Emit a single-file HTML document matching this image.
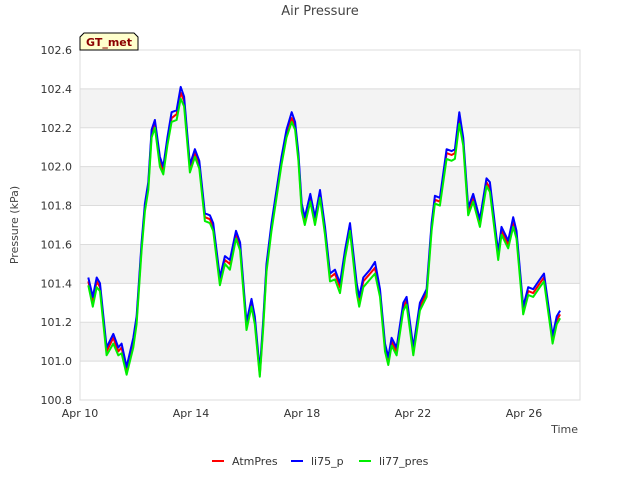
<!DOCTYPE html>
<html><head><meta charset="utf-8"><style>
body{margin:0;background:#fff;font-family:"Liberation Sans","DejaVu Sans",sans-serif}
</style></head><body>
<svg id="chart" width="640" height="480" xmlns="http://www.w3.org/2000/svg" font-family="DejaVu Sans, Liberation Sans, sans-serif">
<text x="320" y="15" text-anchor="middle" font-size="13" fill="#444">Air Pressure</text>
<g id="bands"></g><g id="grid"></g><g id="yticks"></g><g id="xticks"></g><g id="series"></g>
<text transform="translate(18,225) rotate(-90)" text-anchor="middle" font-size="11" fill="#444">Pressure (kPa)</text>
<text x="578" y="433" text-anchor="end" font-size="11" fill="#444">Time</text>
<g>
<path d="M80,50 L80,37 L84,33 L134,33 L138,37 L138,50 Z" fill="#ffffcc" stroke="#000" stroke-width="1"/>
<text x="109" y="46" text-anchor="middle" font-size="11" font-weight="bold" fill="#8b0000">GT_met</text>
</g>
<g font-size="11" fill="#333">
<g><line x1="212" y1="461" x2="224" y2="461" stroke="#ff0000" stroke-width="2"/><text x="232" y="465">AtmPres</text></g>
<g><line x1="291" y1="461" x2="303" y2="461" stroke="#0000ff" stroke-width="2"/><text x="311" y="465">li75_p</text></g>
<g><line x1="359" y1="461" x2="371" y2="461" stroke="#00ee00" stroke-width="2"/><text x="379" y="465">li77_pres</text></g>
</g>
</svg>
<script>
const days = [0.3,0.46,0.6,0.72,0.96,1.2,1.38,1.5,1.68,1.92,2.04,2.22,2.34,2.46,2.58,2.7,2.88,3.0,3.15,3.3,3.48,3.63,3.75,3.96,4.14,4.3,4.5,4.68,4.8,5.04,5.22,5.4,5.62,5.77,6.0,6.18,6.3,6.48,6.6,6.72,6.9,7.08,7.26,7.44,7.63,7.75,7.87,7.99,8.1,8.3,8.47,8.65,8.83,9.01,9.19,9.37,9.55,9.73,9.97,10.06,10.21,10.45,10.63,10.81,10.99,11.11,11.23,11.41,11.65,11.77,12.01,12.25,12.49,12.67,12.79,12.97,13.21,13.39,13.51,13.67,13.81,13.99,14.17,14.41,14.65,14.77,15.07,15.19,15.43,15.61,15.73,15.97,16.15,16.33,16.57,16.72,17.03,17.18,17.3];
const li75 = [101.43,101.33,101.43,101.40,101.07,101.14,101.07,101.09,100.97,101.12,101.23,101.61,101.81,101.92,102.19,102.24,102.05,102.00,102.15,102.28,102.29,102.41,102.36,102.01,102.09,102.03,101.76,101.75,101.71,101.43,101.54,101.52,101.67,101.61,101.20,101.32,101.23,100.95,101.20,101.50,101.71,101.88,102.05,102.19,102.28,102.23,102.07,101.81,101.74,101.86,101.74,101.88,101.69,101.45,101.47,101.40,101.57,101.71,101.40,101.33,101.43,101.47,101.51,101.37,101.09,101.02,101.12,101.07,101.30,101.33,101.07,101.30,101.37,101.71,101.85,101.84,102.09,102.08,102.09,102.28,102.15,101.79,101.86,101.73,101.94,101.92,101.56,101.69,101.62,101.74,101.67,101.28,101.38,101.37,101.42,101.45,101.13,101.23,101.26];
const atm = [101.41,101.31,101.41,101.38,101.05,101.12,101.05,101.07,100.95,101.10,101.21,101.59,101.79,101.90,102.17,102.22,102.03,101.98,102.13,102.25,102.27,102.38,102.34,101.99,102.07,102.01,101.74,101.73,101.69,101.41,101.52,101.50,101.65,101.59,101.18,101.30,101.21,100.93,101.18,101.48,101.69,101.86,102.03,102.17,102.25,102.21,102.05,101.79,101.72,101.84,101.72,101.86,101.67,101.43,101.45,101.38,101.55,101.69,101.38,101.31,101.41,101.45,101.48,101.35,101.07,101.00,101.10,101.05,101.28,101.31,101.05,101.28,101.35,101.69,101.83,101.82,102.07,102.06,102.07,102.25,102.13,101.77,101.84,101.71,101.92,101.89,101.54,101.67,101.60,101.71,101.65,101.26,101.36,101.35,101.40,101.43,101.11,101.21,101.24];
const li77 = [101.39,101.28,101.38,101.36,101.03,101.09,101.03,101.04,100.93,101.07,101.19,101.57,101.77,101.88,102.15,102.20,102.00,101.96,102.11,102.23,102.24,102.35,102.31,101.97,102.05,101.99,101.72,101.71,101.67,101.39,101.50,101.47,101.63,101.57,101.16,101.28,101.19,100.92,101.16,101.46,101.67,101.84,102.01,102.15,102.23,102.19,102.03,101.77,101.70,101.82,101.70,101.84,101.65,101.41,101.42,101.35,101.53,101.67,101.35,101.28,101.38,101.42,101.45,101.33,101.05,100.98,101.08,101.03,101.26,101.29,101.03,101.26,101.33,101.67,101.81,101.80,102.04,102.03,102.04,102.22,102.11,101.75,101.82,101.69,101.90,101.87,101.52,101.65,101.58,101.69,101.63,101.24,101.34,101.33,101.38,101.41,101.09,101.19,101.22];
const yTicks = [100.8,101.0,101.2,101.4,101.6,101.8,102.0,102.2,102.4,102.6];
const xTickDays = [0,4,8,12,16];
const xTickLabels = ["Apr 10","Apr 14","Apr 18","Apr 22","Apr 26"];

const NS="http://www.w3.org/2000/svg";
const L=80,R=580,T=50,B=400,ymin=100.8,ymax=102.6,pxDay=27.75;
const X=d=>L+d*pxDay, Y=v=>B-(v-ymin)/(ymax-ymin)*(B-T);
function mk(tag,attrs,parent){const e=document.createElementNS(NS,tag);for(const k in attrs)e.setAttribute(k,attrs[k]);document.getElementById(parent).appendChild(e);return e;}
for(let i=0;i<yTicks.length-1;i++){ if(i%2===1){
  const r=mk('rect',{x:L,y:Y(yTicks[i+1]),width:R-L,height:Y(yTicks[i])-Y(yTicks[i+1]),fill:'#f3f3f3'},'bands');
  
  
}}
mk('rect',{x:L,y:T,width:R-L,height:B-T,fill:'none',stroke:'#dcdcdc'},'grid');
yTicks.forEach(v=>{
  const g=mk('line',{x1:L,x2:R,y1:Y(v),y2:Y(v),stroke:'#dcdcdc'},'grid');
  
  
  const t=mk('text',{x:L-8,y:Y(v)+4,'text-anchor':'end','font-size':'11',fill:'#333'},'yticks');
  
  
  t.textContent=v.toFixed(1);
});
xTickDays.forEach((d,i)=>{
  const t=mk('text',{x:X(d),y:417,'text-anchor':'middle','font-size':'11',fill:'#333'},'xticks');
  
  
  t.textContent=xTickLabels[i];
});
function series(vals,color,name){
  const p=mk('polyline',{points:vals.map((v,i)=>X(days[i]).toFixed(1)+','+Y(v).toFixed(1)).join(' '),fill:'none',stroke:color,'stroke-width':'2','stroke-linejoin':'round'},'series');
  
  
}
series(atm,'#ff0000','series-atmpres');
series(li75,'#0000ff','series-li75-p');
series(li77,'#00ee00','series-li77-pres');
</script>
</body></html>
